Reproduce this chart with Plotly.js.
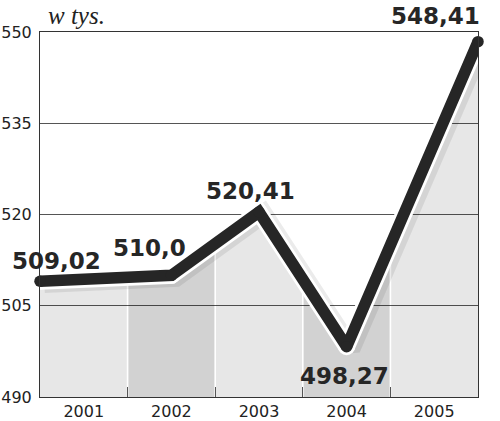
<!DOCTYPE html>
<html>
<head>
<meta charset="utf-8">
<script src="https://cdn.plot.ly/plotly-3.0.1.min.js"></script>
<style>html,body{margin:0;padding:0;background:#fff;}#chart{width:500px;height:421px;}</style>
</head>
<body>
<div id="chart"></div>
<script>
const years = [2001, 2002, 2003, 2004, 2005];
const values = [509.02, 510.0, 520.41, 498.27, 548.41];
const valueLabels = ['509,02', '510,0', '520,41', '498,27', '548,41'];
const yTicks = [490, 505, 520, 535, 550];
const unitLabel = 'w tys.';

const yMin = yTicks[0], yMax = yTicks[yTicks.length - 1];
const n = years.length;
// the line runs from the left edge of the first column to the right edge of the last
const lineX = years.map((y, i) => i === 0 ? y - 0.5 : (i === n - 1 ? y + 0.5 : y));

function interp(x) {
  for (let i = 0; i < n - 1; i++) {
    if (x >= lineX[i] && x <= lineX[i + 1]) {
      const t = (x - lineX[i]) / (lineX[i + 1] - lineX[i]);
      return values[i] + t * (values[i + 1] - values[i]);
    }
  }
  return x < lineX[0] ? values[0] : values[n - 1];
}

const light = 'rgba(0,0,0,0.095)';
const dark = 'rgba(0,0,0,0.175)';
const gap = 0.009;
const traces = [];

years.forEach((yr, i) => {
  const x0 = yr - 0.5 + (i === 0 ? 0 : gap);
  const x1 = yr + 0.5 - (i === n - 1 ? 0 : gap);
  const px = [x0, x0], py = [yMin, interp(x0)];
  lineX.forEach((lx, k) => { if (lx > x0 && lx < x1) { px.push(lx); py.push(values[k]); } });
  px.push(x1, x1); py.push(interp(x1), yMin);
  traces.push({
    type: 'scatter', mode: 'lines', x: px, y: py, fill: 'toself',
    fillcolor: i % 2 === 1 ? dark : light, line: {width: 0}, hoverinfo: 'skip', showlegend: false
  });
});

// soft shadow (offset right/down)
traces.push({
  type: 'scatter', mode: 'lines',
  x: lineX.map(v => v + 0.05), y: values.map(v => v - 0.35),
  line: {color: 'rgba(0,0,0,0.08)', width: 19},
  cliponaxis: false, hoverinfo: 'skip', showlegend: false
});
// white halo
traces.push({
  type: 'scatter', mode: 'lines+markers', x: lineX, y: values,
  line: {color: '#ffffff', width: 17},
  marker: {color: '#ffffff', size: 17},
  cliponaxis: false, hoverinfo: 'skip', showlegend: false
});
// main line
traces.push({
  type: 'scatter', mode: 'lines+markers', x: lineX, y: values,
  line: {color: '#262626', width: 11.5},
  marker: {color: '#262626', size: 11.5},
  cliponaxis: false, hoverinfo: 'skip', showlegend: false
});
// invisible trace for the boundary-tick axis
traces.push({
  type: 'scatter', mode: 'markers', x: [years[0]], y: [yMin], xaxis: 'x2',
  marker: {opacity: 0}, hoverinfo: 'skip', showlegend: false
});

const labelShift = [[-27, 20], [-22, 27], [-9, 21], [-2, -29], [1, 26]];
const annotations = valueLabels.map((t, i) => ({
  x: years[i], y: values[i], text: t, showarrow: false,
  xanchor: 'center', yanchor: 'middle',
  xshift: labelShift[i][0], yshift: labelShift[i][1],
  font: {family: 'DejaVu Sans', size: 23, color: '#262626', weight: 'bold'}
}));
annotations.push({
  xref: 'paper', yref: 'paper', x: 0, y: 1, xanchor: 'left', yanchor: 'middle',
  xshift: 6, yshift: 17, showarrow: false, text: '<i>' + unitLabel + '</i>',
  font: {family: 'Liberation Serif', size: 25, color: '#222'}
});

const boundaries = years.slice(0, -1).map(y => y + 0.5);
const xRange = [years[0] - 0.5, years[n - 1] + 0.5];

const layout = {
  width: 500, height: 421,
  margin: {l: 40, r: 22, t: 32, b: 24},
  paper_bgcolor: '#ffffff', plot_bgcolor: '#ffffff',
  showlegend: false,
  xaxis: {
    range: xRange, tickvals: years, ticktext: years.map(String), ticks: '',
    showgrid: false, zeroline: false, showline: true, linecolor: '#333', linewidth: 1,
    mirror: true,
    tickfont: {family: 'DejaVu Sans', size: 16, color: '#222'}, ticklabelstandoff: 0
  },
  xaxis2: {
    overlaying: 'x', matches: 'x', range: xRange, anchor: 'y', side: 'bottom',
    tickvals: boundaries, ticks: 'inside', ticklen: 10, tickcolor: '#555', tickwidth: 1,
    showticklabels: false, showgrid: false, zeroline: false, showline: false
  },
  yaxis: {
    range: [yMin, yMax], tickvals: yTicks, ticktext: yTicks.map(String), ticks: '',
    showgrid: true, gridcolor: '#555', gridwidth: 1, zeroline: false,
    showline: true, linecolor: '#333', linewidth: 1, mirror: true,
    tickfont: {family: 'DejaVu Sans', size: 16, color: '#222'}, ticklabelstandoff: 4
  },
  annotations: annotations
};

Plotly.newPlot('chart', traces, layout, {staticPlot: true, displayModeBar: false});
</script>
</body>
</html>
